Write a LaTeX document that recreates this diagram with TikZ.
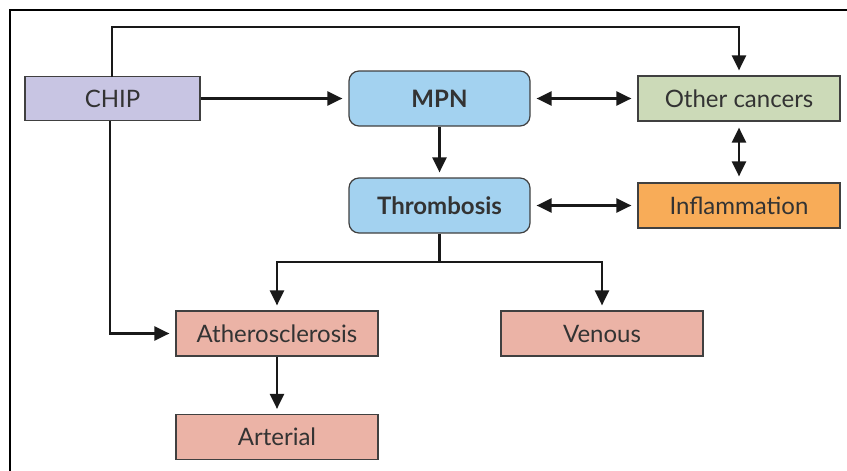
\documentclass[tikz,border=0pt]{standalone}
\usepackage{fontspec}
\setmainfont{Lato}
\usetikzlibrary{arrows.meta}
\definecolor{chipc}{HTML}{C8C5E3}
\definecolor{bluec}{HTML}{A3D2F0}
\definecolor{greenc}{HTML}{CCDAB8}
\definecolor{orangec}{HTML}{F8AC58}
\definecolor{pinkc}{HTML}{EBB3A6}
\definecolor{txt}{HTML}{333333}
\definecolor{edge}{HTML}{404040}
\begin{document}
\begin{tikzpicture}[x=1pt,y=-1pt,
  box/.style={draw=edge, line width=1.2pt, text=txt, font=\fontsize{24}{26}\selectfont, inner sep=0pt, anchor=center},
  sqbox/.style={box, minimum width=202pt, minimum height=45pt},
  rbox/.style={box, fill=bluec, rounded corners=10pt, minimum width=181pt, minimum height=55pt, font=\fontsize{24}{26}\selectfont\bfseries},
  conn/.style={line width=2.4pt, draw={black!90}, -{Triangle[length=15pt,width=14pt]}},
  bconn/.style={line width=2.4pt, draw={black!90}, {Triangle[length=15pt,width=14pt]}-{Triangle[length=15pt,width=14pt]}}
]
\useasboundingbox (0,0) rectangle (847,471);
\draw[line width=2.5pt] (10,471) -- (10,10) -- (847,10);

\node[sqbox, fill=chipc, minimum width=175pt, minimum height=44pt] (chip) at (112.5,98.5) {CHIP};
\node[rbox] (mpn) at (439.5,98.5) {MPN};
\node[sqbox, fill=greenc] (oc) at (739,98.5) {Other cancers};
\node[rbox] (thr) at (439.5,205.5) {Thrombosis};
\node[sqbox, fill=orangec] (inf) at (739,205.5) {Inflammation};
\node[sqbox, fill=pinkc] (ath) at (277,333.5) {Atherosclerosis};
\node[sqbox, fill=pinkc] (ven) at (602,333.5) {Venous};
\node[sqbox, fill=pinkc] (art) at (277,437) {Arterial};

\coordinate (c1) at (112,27);
\coordinate (c2) at (739,27);
\coordinate (c3) at (439.5,262);
\coordinate (c4) at (277,262);
\coordinate (c5) at (602,262);
\coordinate (c6) at (110,333.5);

\draw[conn, shorten >=5pt] (112,77) -- (c1) -- (c2) -- (oc.north);
\draw[conn, shorten >=6pt] (chip.east) -- (mpn.west);
\draw[bconn, shorten <=6pt, shorten >=6pt] (mpn.east) -- (oc.west);
\draw[conn, shorten >=5pt] (mpn.south) -- (thr.north);
\draw[bconn, shorten <=6pt, shorten >=6pt] (thr.east) -- (inf.west);
\draw[bconn, shorten <=6pt, shorten >=6pt] (oc.south) -- (inf.north);
\draw[line width=2.4pt, black!90] (thr.south) -- (c3);
\draw[conn, shorten >=5pt] (c3) -- (c4) -- (ath.north);
\draw[conn, shorten >=5pt] (c3) -- (c5) -- (ven.north);
\draw[conn, shorten >=6pt] (110,121) -- (c6) -- (ath.west);
\draw[conn, shorten >=5pt] (ath.south) -- (art.north);
\end{tikzpicture}
\end{document}
